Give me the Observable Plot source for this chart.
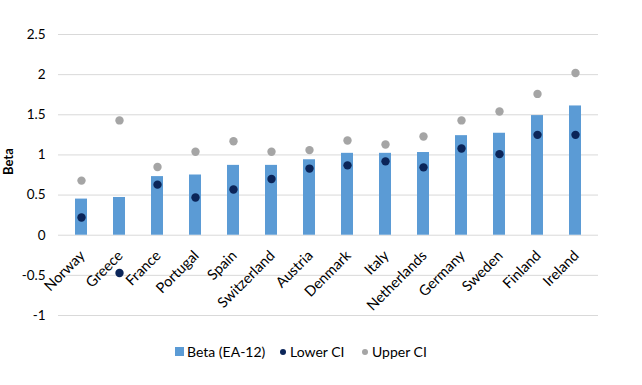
<!DOCTYPE html>
<html>
<head>
<meta charset="utf-8">
<script src="https://cdn.jsdelivr.net/npm/d3@7"></script>
<script src="https://cdn.jsdelivr.net/npm/@observablehq/plot@0.6"></script>
<style>
  html, body { margin: 0; padding: 0; background: #fff; }
  body { width: 642px; height: 385px; overflow: hidden; font-family: Lato, "Liberation Sans", sans-serif; }
  #legend { position: relative; height: 50px; font-size: 14px; color: #000; }
  .item { position: absolute; top: 8px; display: flex; align-items: center; white-space: nowrap; }
  .sw-sq { width: 9px; height: 9px; margin-right: 3px; }
  .sw-dot { width: 6px; height: 6px; border-radius: 50%; margin-right: 4px; }
</style>
</head>
<body>
<div id="chart"></div>
<div id="legend"></div>
<script>
const countries = ["Norway","Greece","France","Portugal","Spain","Switzerland","Austria","Denmark","Italy","Netherlands","Germany","Sweden","Finland","Ireland"];
const beta  = [0.45, 0.47, 0.73, 0.75, 0.87, 0.87, 0.94, 1.02, 1.02, 1.03, 1.24, 1.27, 1.49, 1.61];
const lower = [0.22, -0.47, 0.63, 0.47, 0.57, 0.70, 0.83, 0.87, 0.92, 0.845, 1.08, 1.01, 1.25, 1.25];
const upper = [0.68, 1.43, 0.85, 1.04, 1.17, 1.04, 1.06, 1.18, 1.13, 1.23, 1.43, 1.54, 1.76, 2.02];
const yTicks = [-1, -0.5, 0, 0.5, 1, 1.5, 2, 2.5];
const seriesNames = ["Beta (EA-12)", "Lower CI", "Upper CI"];
const colors = ["#5B9BD5", "#0B2559", "#A5A5A5"];

const data = countries.map((c, i) => ({country: c, beta: beta[i], lower: lower[i], upper: upper[i]}));

const chart = Plot.plot({
  width: 642,
  height: 335,
  marginLeft: 58,
  marginRight: 44,
  marginTop: 34,
  marginBottom: 20,
  style: {fontFamily: "Lato, 'Liberation Sans', sans-serif", fontSize: "13px", background: "white", color: "#000"},
  x: {type: "band", domain: countries, paddingInner: 0.69, paddingOuter: 0.345, align: 0.5, axis: null},
  y: {domain: [-1, 2.5], axis: null},
  marks: [
    Plot.gridY(yTicks, {stroke: "#D9D9D9", strokeOpacity: 1, strokeWidth: 1}),
    Plot.axisY(yTicks, {tickSize: 0, tickPadding: 13, tickFormat: d => String(d), label: null, fontSize: 13.5}),
    Plot.text(["Beta"], {frameAnchor: "left", rotate: -90, dx: -50, text: d => d, fontWeight: "bold", fontSize: 13}),
    Plot.barY(data, {x: "country", y: "beta", fill: colors[0]}),
    Plot.dot(data, {x: "country", y: "lower", r: 4.2, fill: colors[1], stroke: "none"}),
    Plot.dot(data, {x: "country", y: "upper", r: 4.2, fill: colors[2], stroke: "none"}),
    Plot.text(data, {x: "country", y: () => 0, text: "country", rotate: -45, textAnchor: "end", lineAnchor: "top", dx: -3, dy: 14, fontSize: 14.5})
  ]
});
document.getElementById("chart").appendChild(chart);

const legend = document.getElementById("legend");
const lefts = [175, 280, 362];
seriesNames.forEach((name, i) => {
  const item = document.createElement("div");
  item.className = "item";
  item.style.left = lefts[i] + "px";
  const sw = document.createElement("span");
  sw.className = i === 0 ? "sw-sq" : "sw-dot";
  sw.style.background = colors[i];
  const t = document.createElement("span");
  t.textContent = name;
  item.appendChild(sw);
  item.appendChild(t);
  legend.appendChild(item);
});
</script>
</body>
</html>
